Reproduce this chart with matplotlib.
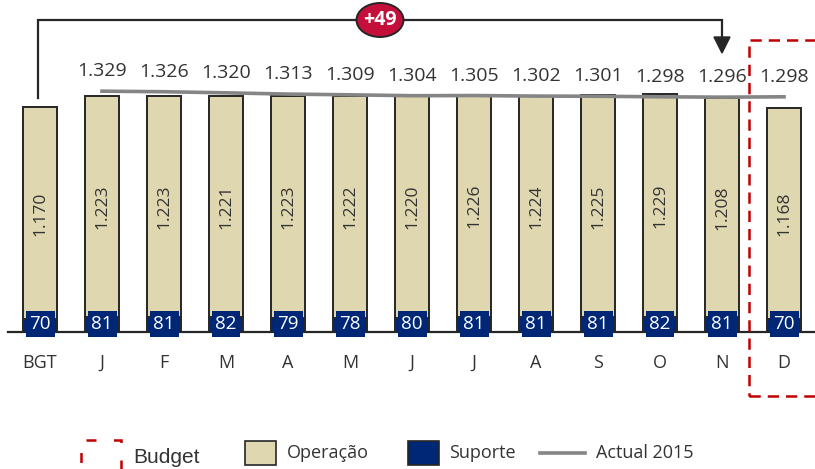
import matplotlib
matplotlib.use('Agg')
import matplotlib.pyplot as plt
from matplotlib.patches import Rectangle, Ellipse, Polygon
from matplotlib.lines import Line2D

plt.rcParams['font.family'] = ['Open Sans', 'DejaVu Sans']

# data
months = ['BGT', 'J', 'F', 'M', 'A', 'M', 'J', 'J', 'A', 'S', 'O', 'N', 'D']
operacao = [1170, 1223, 1223, 1221, 1223, 1222, 1220, 1226, 1224, 1225, 1229, 1208, 1168]
suporte = [70, 81, 81, 82, 79, 78, 80, 81, 81, 81, 82, 81, 70]
actual_2015 = [1329, 1326, 1320, 1313, 1309, 1304, 1305, 1302, 1301, 1298, 1296, 1298]
actual_months = list(range(1, 13))
delta_label = '+49'

BEIGE = '#DFD7B0'
NAVY = '#002776'
EDGE = '#262626'
TEXT = '#333333'
RED = '#C00000'
GRAY = '#858585'

W, H = 815, 469
fig = plt.figure(figsize=(W / 100, H / 100), dpi=100)
ax = fig.add_axes([0, 0, 1, 1])
ax.axis('off')

# pixel scale used for the layout
step = 62.0
x0 = 40.0
base = 332.0
scale = 0.1812
ax.set_xlim(-x0 / step, (W - x0) / step)
ax.set_ylim(-(H - base) / scale, base / scale)


def px(x):
    return (x - x0) / step


def py(y):
    return (base - y) / scale


xs = list(range(len(months)))
width = 0.556

ax.bar(xs, suporte, width=width, color=NAVY, edgecolor=EDGE, linewidth=1.4, zorder=2)
ax.bar(xs, operacao, width=width, bottom=suporte, color=BEIGE, edgecolor=EDGE,
       linewidth=1.4, zorder=2)
ax.plot([px(8), px(W)], [0, 0], color=EDGE, lw=1.6, zorder=3)

for x, op, sp in zip(xs, operacao, suporte):
    ax.text(x, sp + op / 2, f'{op / 1000:.3f}', rotation=90, ha='center', va='center',
            fontsize=12.5, color=TEXT, zorder=4)
    ax.text(x, py(324), str(sp), ha='center', va='center', fontsize=13.5, color='white',
            zorder=5, bbox=dict(boxstyle='square,pad=0.2', fc=NAVY, ec='none'))
    ax.text(x, py(363), months[x], ha='center', va='center', fontsize=13, color=TEXT)

# Actual 2015 line
ax.plot(actual_months, actual_2015, color=GRAY, lw=2.6, zorder=3)
for x, v in zip(actual_months, actual_2015):
    ax.text(x, v + 20 / scale, f'{v / 1000:.3f}', ha='center', va='center',
            fontsize=14, color=TEXT, zorder=4)

# BGT -> N arrow with delta bubble
ytop = py(20)
ax.plot([0 - 0.03, 0 - 0.03, 11, 11], [py(98), ytop, ytop, py(38)], color=EDGE, lw=1.6,
        zorder=3, solid_joinstyle='miter')
ax.add_patch(Polygon([(11 - 8 / step, py(37)), (11 + 8 / step, py(37)), (11, py(53))],
                     closed=True, color=EDGE, zorder=3))
ax.add_patch(Ellipse((px(380), ytop), 47 / step, 34 / scale, fc='#C40F3A', ec=EDGE,
                     lw=1.4, zorder=4))
ax.text(px(380), ytop, delta_label, ha='center', va='center', fontsize=14,
        fontweight='bold', color='white', zorder=5)

# Budget dashed box around D
ax.add_patch(Rectangle((px(749), py(396)), (W + 20 - 749) / step, (396 - 40) / scale,
                       fill=False, ec=RED, lw=1.8, ls=(0, (4.5, 2.8)), zorder=4))

# legend
fig.add_artist(Rectangle((81 / W, 1 - 480 / H), 40 / W, 40 / H, fill=False, ec=RED,
                         lw=1.8, ls=(0, (4, 7)), transform=fig.transFigure))
fig.text(133 / W, 1 - 457 / H, 'Budget', family='Liberation Sans', fontsize=15,
         color=TEXT, va='center')
fig.add_artist(Rectangle((245 / W, 1 - 465 / H), 31 / W, 24 / H, fc=BEIGE, ec=EDGE,
                         lw=1.2, transform=fig.transFigure))
fig.text(287 / W, 1 - 453 / H, 'Operação', fontsize=13, color=TEXT, va='center')
fig.add_artist(Rectangle((408 / W, 1 - 465 / H), 31 / W, 24 / H, fc=NAVY, ec=EDGE,
                         lw=1.2, transform=fig.transFigure))
fig.text(449 / W, 1 - 453 / H, 'Suporte', fontsize=13, color=TEXT, va='center')
fig.add_artist(Line2D([540 / W, 585 / W], [1 - 453 / H, 1 - 453 / H], color=GRAY, lw=2.6,
                      transform=fig.transFigure))
fig.text(596 / W, 1 - 453 / H, 'Actual 2015', fontsize=13, color=TEXT, va='center')

fig.savefig('out.png', dpi=100)
